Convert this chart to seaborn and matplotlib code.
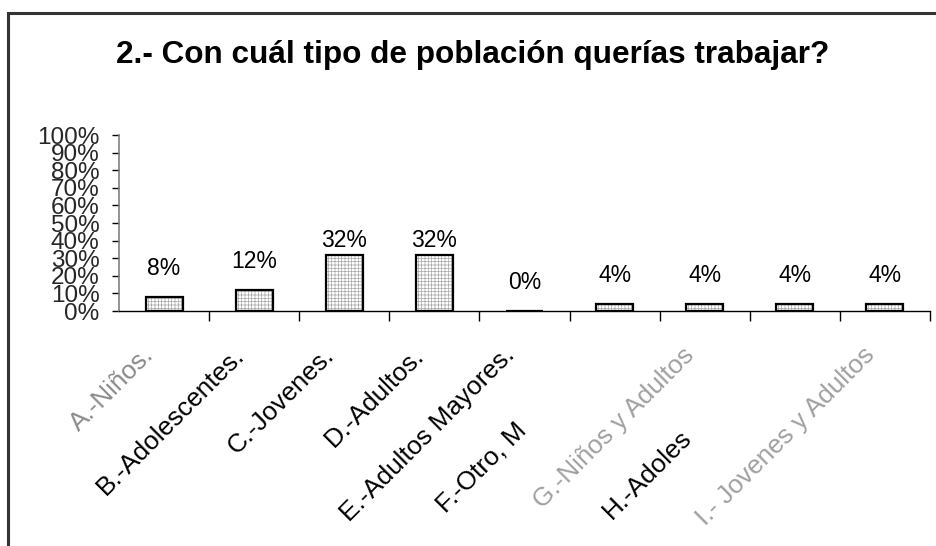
import matplotlib
matplotlib.use("Agg")
import matplotlib.pyplot as plt
import matplotlib.transforms as mtransforms
from matplotlib.patches import Rectangle
from matplotlib.ticker import FixedLocator, PercentFormatter
import seaborn as sns
import pandas as pd

# ---- data ----
categories = ["A.-Niños.", "B.-Adolescentes.", "C.-Jovenes.", "D.-Adultos.",
              "E.-Adultos Mayores.", "F.-Otro, M", "G.-Niños y Adultos",
              "H.-Adoles", "I.- Jovenes y Adultos"]
values = [0.08, 0.12, 0.32, 0.32, 0.00, 0.04, 0.04, 0.04, 0.04]
value_labels = ["8%", "12%", "32%", "32%", "0%", "4%", "4%", "4%", "4%"]
title = "2.- Con cuál tipo de población querías trabajar?"

# ---- styling ----
label_colors = ["#8a8a8a", "black", "black", "black", "black", "black",
                "#a0a0a0", "black", "#a0a0a0"]
# truncated labels (F, H) start at their lower-left end: (dx, dy) pixel offsets
left_anchored = {5: (-174, -157), 7: (-188, -164)}

sns.set_theme(style="white")
plt.rcParams["font.family"] = ["Liberation Sans", "DejaVu Sans"]
plt.rcParams["hatch.color"] = "#a8a8a8"
plt.rcParams["hatch.linewidth"] = 0.5

W, H = 937, 546
fig = plt.figure(figsize=(W / 100, H / 100), dpi=100)
fig.patch.set_facecolor("white")

fig.add_artist(Rectangle((8 / W, -0.2), 1.3, 1.2 - 13 / H, transform=fig.transFigure,
                         fill=False, edgecolor="#333333", linewidth=2.2, clip_on=False))

ax = fig.add_axes([119 / W, 1 - 311 / H, (930 - 119) / W, 176 / H])

df = pd.DataFrame({"cat": categories, "val": values})
sns.barplot(data=df, x="cat", y="val", color="white", edgecolor="black",
            linewidth=1.6, width=0.41, ax=ax)
for p in ax.patches:
    p.set_hatch("+++++")
    if hasattr(p, "set_hatchcolor"):
        p.set_hatchcolor("#a8a8a8")
    else:
        p._hatch_color = matplotlib.colors.to_rgba("#a8a8a8")

ax.set_xlim(-0.5, len(categories) - 0.5)
ax.set_ylim(0, 1)
ax.set_xlabel("")
ax.set_ylabel("")

ax.yaxis.set_major_locator(FixedLocator([i / 10 for i in range(11)]))
ax.yaxis.set_major_formatter(PercentFormatter(1.0, decimals=0))
ax.tick_params(axis="y", direction="out", length=5, width=1, color="black",
               labelsize=17.5, pad=9, left=True)

ax.set_xticks([i + 0.5 for i in range(len(categories))], minor=True)
ax.tick_params(axis="x", which="minor", direction="out", length=7, width=1,
               color="black", bottom=True)
ax.tick_params(axis="x", which="major", length=0, pad=29, labelsize=18.8)

for sp in ["top", "right"]:
    ax.spines[sp].set_visible(False)
ax.spines["left"].set_color("#808080")
ax.spines["left"].set_linewidth(1.2)
ax.spines["bottom"].set_color("black")
ax.spines["bottom"].set_linewidth(1.0)

for i, (lab, c) in enumerate(zip(ax.get_xticklabels(), label_colors)):
    lab.set_rotation(45)
    lab.set_va("center")
    lab.set_rotation_mode("anchor")
    lab.set_color(c)
    if i in left_anchored:
        dx, dy = left_anchored[i]
        lab.set_ha("left")
    else:
        dx, dy = -14, 0
        lab.set_ha("right")
    lab.set_transform(lab.get_transform() +
                      mtransforms.ScaledTranslation(dx / 100, dy / 100, fig.dpi_scale_trans))

for i, (v, s) in enumerate(zip(values, value_labels)):
    ax.text(i, min(v + 0.16, 0.40), s, ha="center", va="center", fontsize=16.5,
            color="black", clip_on=False)

fig.text(473 / W, 1 - 55 / H, title, ha="center", va="center", fontsize=22.7,
         fontweight="bold", color="black")

fig.savefig("out.png", dpi=100, facecolor="white")
